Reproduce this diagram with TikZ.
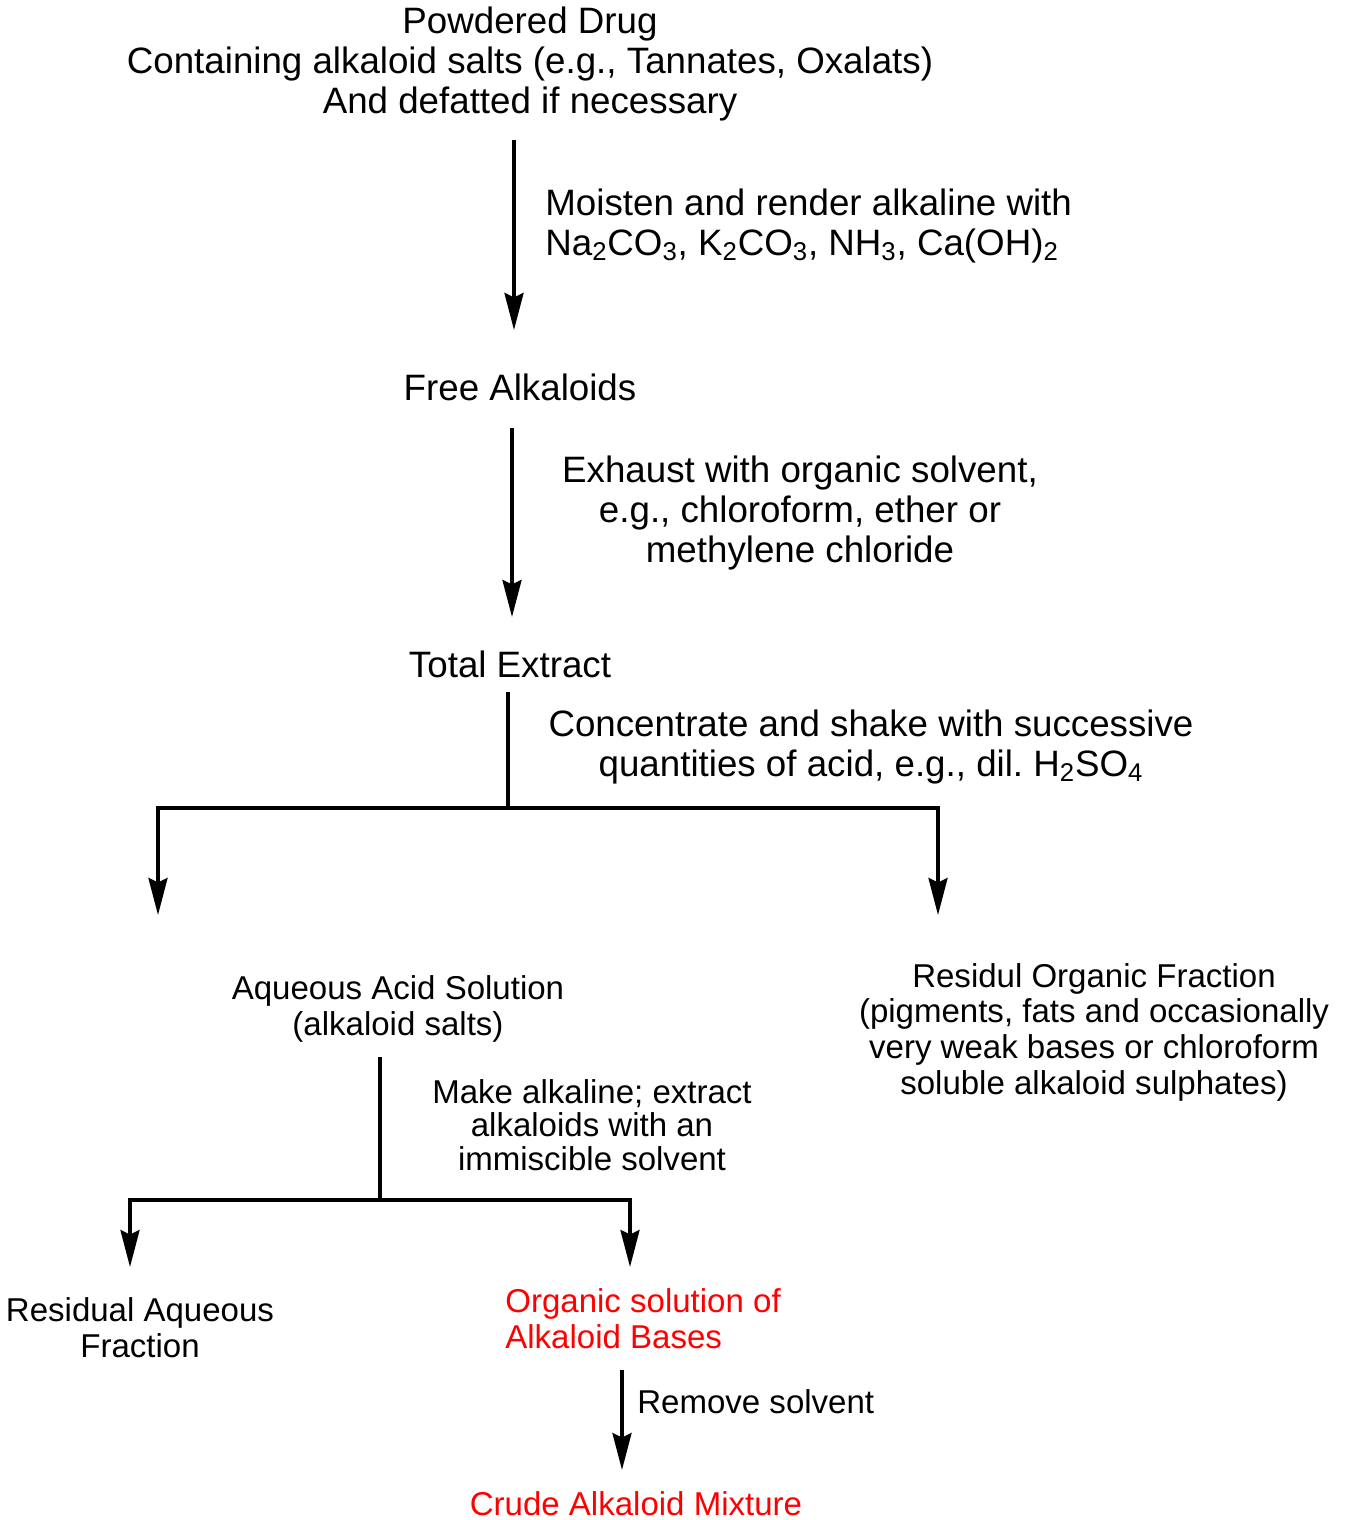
\documentclass[tikz,border=0pt]{standalone}
\usepackage{fontspec}
\setmainfont{Liberation Sans}
\usetikzlibrary{arrows.meta}
\frenchspacing

\begin{document}
\begin{tikzpicture}[x=0.02cm, y=-0.02cm,
    big/.style={font=\fontsize{20.9}{22.5}\selectfont, align=center, inner sep=0pt},
    small/.style={font=\fontsize{18.8}{20.3}\selectfont, align=center, inner sep=0pt},
    line/.style={line width=2pt},
    arr/.style={line width=2pt, -{Stealth[length=0.74cm, width=0.38cm, inset=0.09cm]}}]
    \fill [white] (0, 0) rectangle (1348, 1520);
    \useasboundingbox (0, 0) rectangle (1348, 1520);

    \node [big] (drug) at (530, 64) {Powdered Drug\\Containing alkaloid salts (e.g., Tannates, Oxalats)\\And defatted if necessary};
    \node [big, align=left, anchor=west] (moisten) at (545, 226) {Moisten and render alkaline with\\Na\textsubscript{2}CO\textsubscript{3}, K\textsubscript{2}CO\textsubscript{3}, NH\textsubscript{3}, Ca(OH)\textsubscript{2}};
    \node [big] (free) at (520, 387) {Free Alkaloids};
    \node [big] (exhaust) at (800, 513) {Exhaust with organic solvent,\\e.g., chloroform, ether or\\methylene chloride};
    \node [big] (total) at (510, 664) {Total Extract};
    \node [big] (conc) at (871, 747) {Concentrate and shake with successive\\quantities of acid, e.g., dil. H\textsubscript{2}SO\textsubscript{4}};
    \node [small] (aqueous) at (398, 1009) {Aqueous Acid Solution\\(alkaloid salts)};
    \node [small] (residul) at (1094, 1032) {Residul Organic Fraction\\(pigments, fats and occasionally\\very weak bases or chloroform\\soluble alkaloid sulphates)};
    \node [small, font=\fontsize{18.8}{19}\selectfont] (make) at (592, 1125) {Make alkaline; extract\\alkaloids with an\\immiscible solvent};
    \node [small] (resaq) at (140, 1328) {Residual Aqueous\\Fraction};
    \node [small, align=left, anchor=west, text=red] (orgsol) at (505, 1319) {Organic solution of\\Alkaloid Bases};
    \node [small, anchor=west] (remove) at (637, 1402) {Remove solvent};
    \node [small, text=red] (crude) at (636, 1504) {Crude Alkaloid Mixture};

    \coordinate (a1s) at (514, 140);
    \coordinate (a1e) at (514, 330);
    \coordinate (a2s) at (512, 428);
    \coordinate (a2e) at (512, 617);
    \coordinate (a3s) at (508, 692);
    \coordinate (j1) at (508, 808);
    \coordinate (l1) at (158, 915);
    \coordinate (r1) at (938, 915);
    \coordinate (a4s) at (380, 1057);
    \coordinate (j2) at (380, 1200);
    \coordinate (l2) at (130, 1267);
    \coordinate (r2) at (630, 1267);
    \coordinate (a5s) at (622, 1370);
    \coordinate (a5e) at (622, 1470);

    \draw [arr] (a1s) -- (a1e);
    \draw [arr] (a2s) -- (a2e);
    \draw [line] (a3s) -- (j1);
    \draw [arr] (j1) -| (l1);
    \draw [arr] (j1) -| (r1);
    \draw [line] (a4s) -- (j2);
    \draw [arr] (j2) -| (l2);
    \draw [arr] (j2) -| (r2);
    \draw [arr] (a5s) -- (a5e);
\end{tikzpicture}
\end{document}
